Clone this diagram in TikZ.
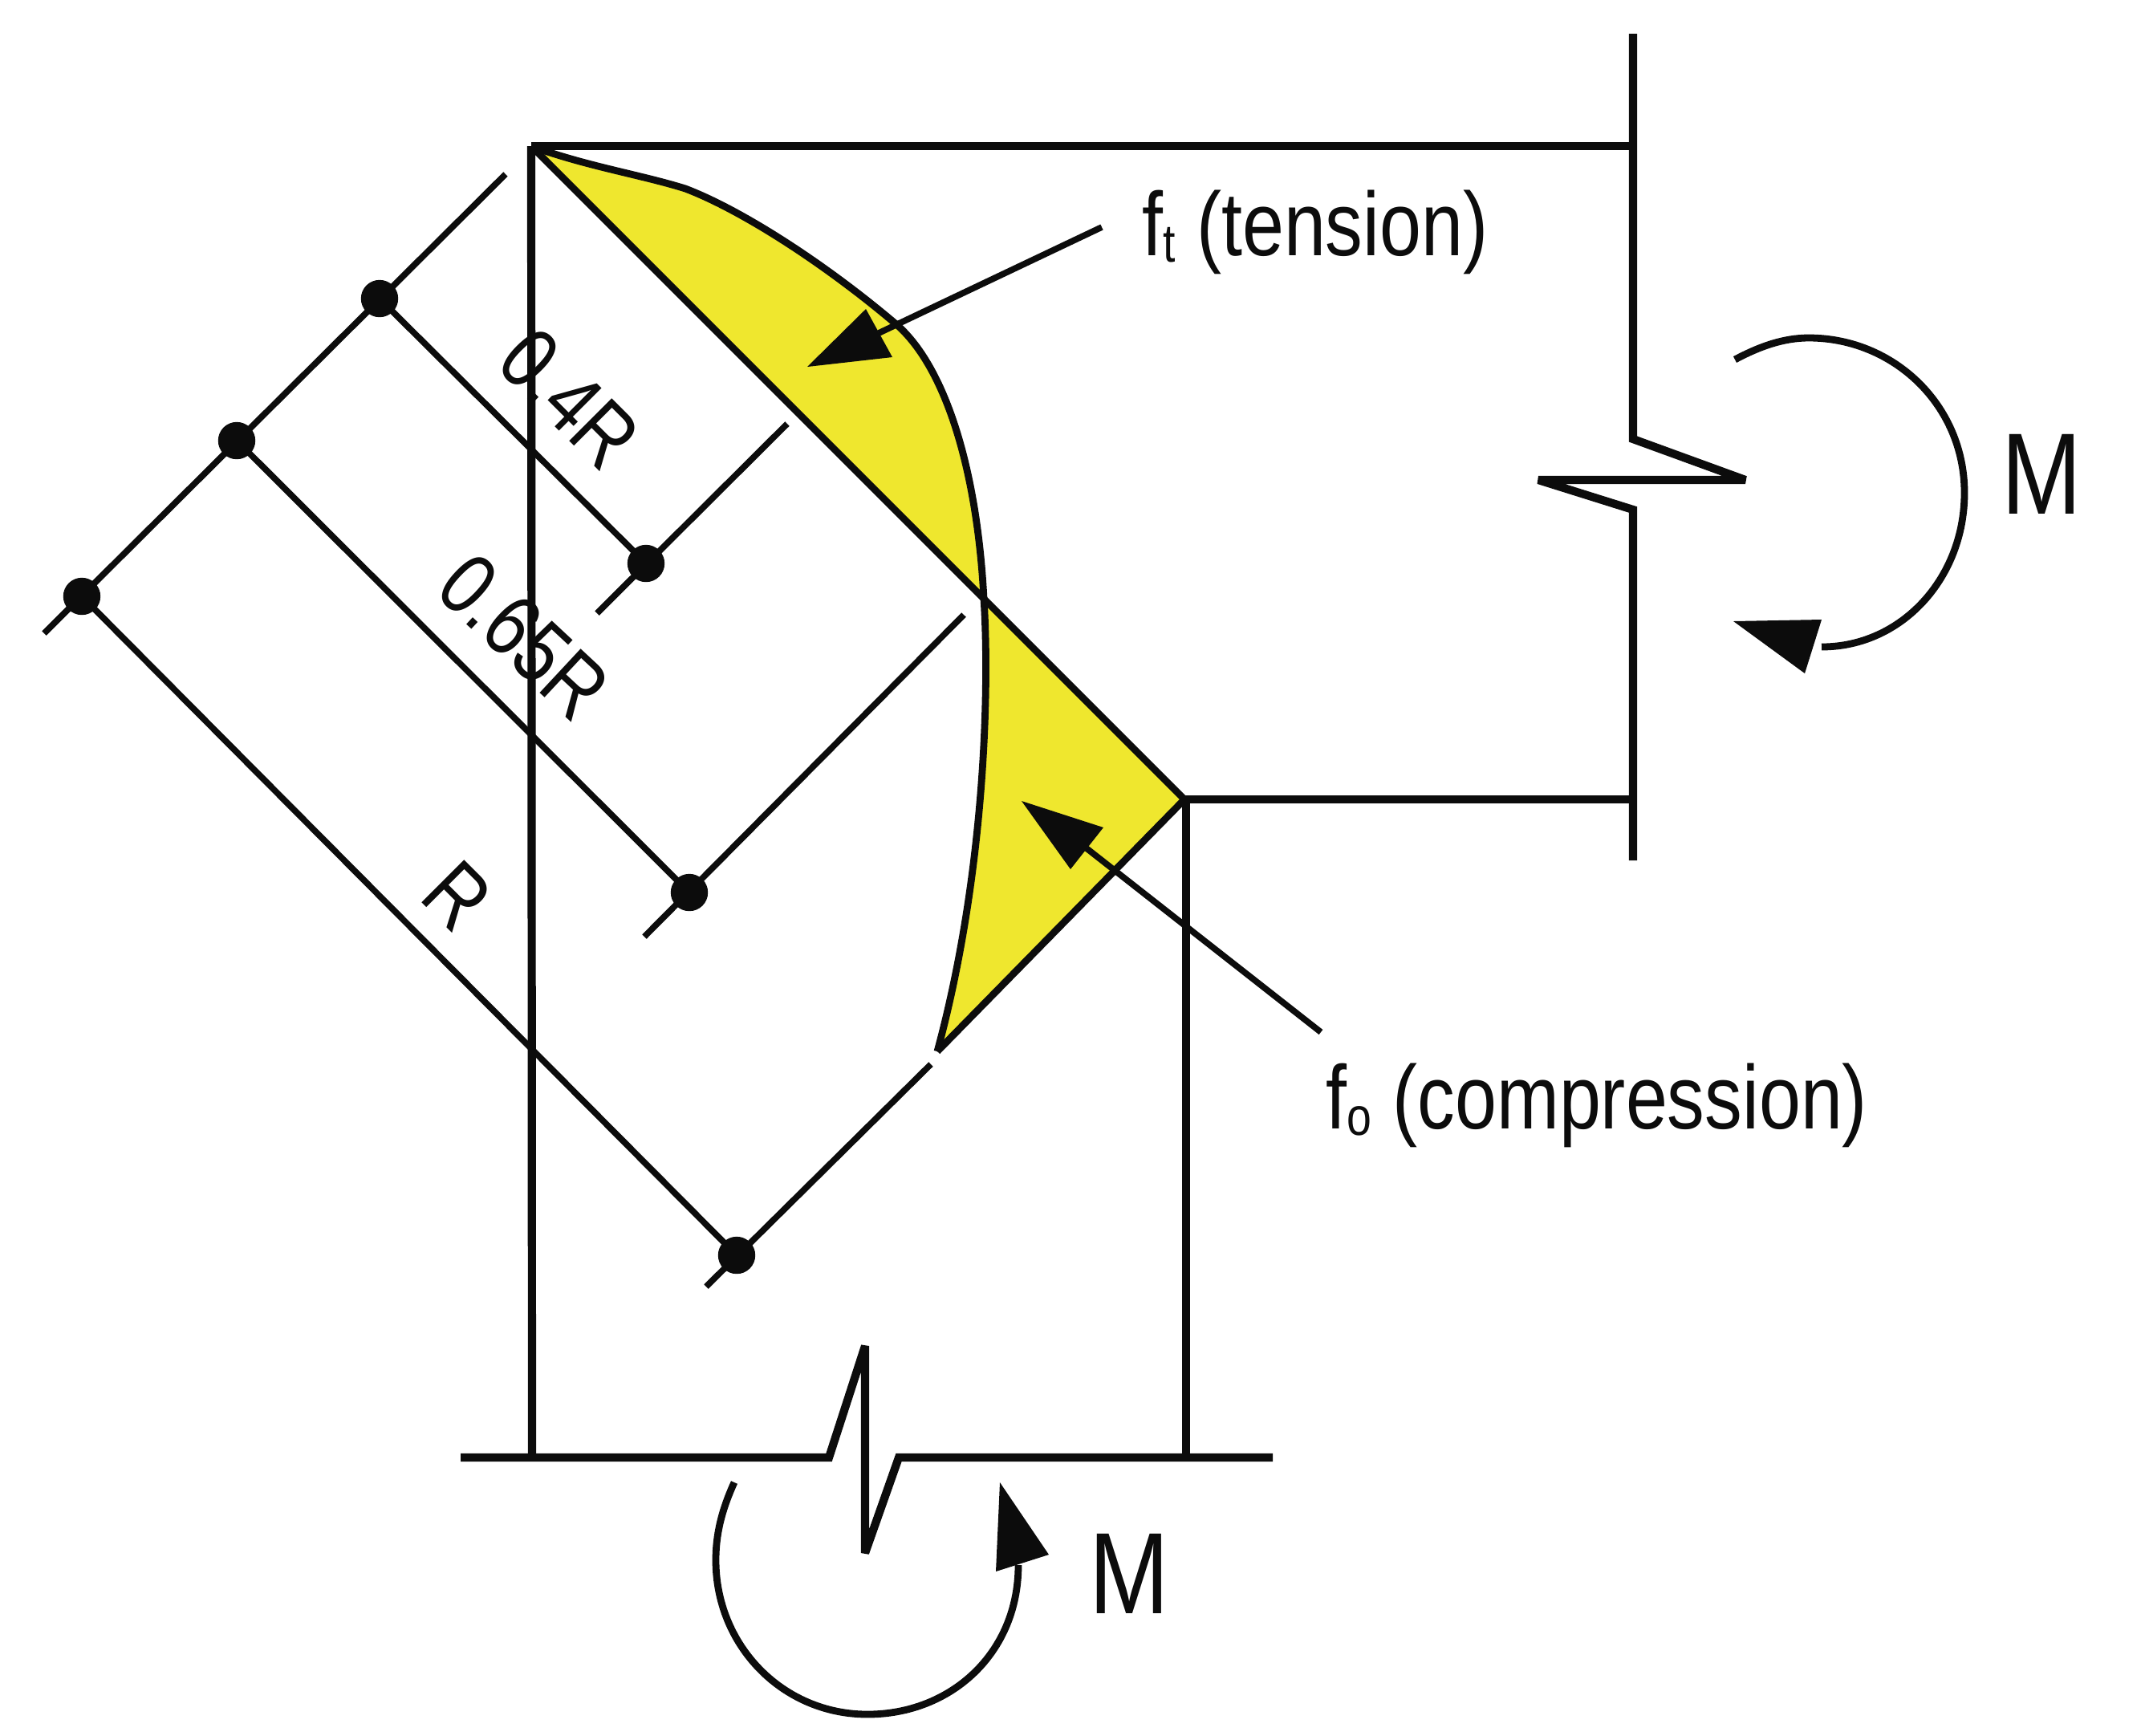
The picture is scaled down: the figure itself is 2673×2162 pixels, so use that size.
\documentclass[tikz,border=0pt]{standalone}
\usepackage{fontspec}
\setmainfont{Liberation Sans}[FakeStretch=0.83]
\definecolor{stressyellow}{HTML}{EFE72E}
\definecolor{ink}{HTML}{0C0C0C}
\newcommand{\subfont}{\fontsize{19}{19}\selectfont}
\tikzset{
  heavy/.style={draw=ink,line width=2.9pt,line join=miter,miter limit=4},
  thin dim/.style={draw=ink,line width=2.2pt},
  curveline/.style={draw=ink,line width=2.5pt},
  dimdot/.style={circle,fill=ink,inner sep=0pt,minimum size=13.2pt},
  head/.style={fill=ink,draw=none},
  lab/.style={text=ink,inner sep=0pt,font=\fontsize{32}{36}\selectfont,anchor=base west},
  dimlab/.style={text=ink,inner sep=0pt,font=\fontsize{31}{35}\selectfont},
  mlab/.style={text=ink,inner sep=0pt,font=\fontsize{41}{45}\selectfont}
}
\begin{document}
\begin{tikzpicture}[x=0.01cm,y=-0.01cm]
\useasboundingbox (0,0) rectangle (2673,2162);
% named points
\coordinate (TL) at (662,182);
\coordinate (TR) at (2035,182);
\coordinate (WT) at (2035,42);
\coordinate (WB1) at (2035,547);
\coordinate (Z1) at (2175,598);
\coordinate (Z2) at (1917,598);
\coordinate (WB2) at (2035,635);
\coordinate (WE) at (2035,1072);
\coordinate (C) at (1476,996);
\coordinate (CR) at (2035,996);
\coordinate (BL) at (663,1816);
\coordinate (BR) at (1478,1816);
\coordinate (CD) at (1478,996);
\coordinate (BaseL) at (574,1816);
\coordinate (BZ1) at (1033,1816);
\coordinate (BZ2) at (1078,1677);
\coordinate (BZ3) at (1078,1935);
\coordinate (BZ4) at (1120,1816);
\coordinate (BaseR) at (1586,1816);
\coordinate (P1) at (854,235);
\coordinate (P2) at (1118,405);
\coordinate (Mid) at (1226,746);
\coordinate (Fan) at (1168,1310);
% yellow stress blocks
\fill[stressyellow] (TL) .. controls (730,207) and (800,218) .. (P1)
  .. controls (925,262) and (1030,330) .. (P2)
  .. controls (1180,460) and (1218,590) .. (Mid)
  .. controls (1234,870) and (1225,1100) .. (Fan) -- (C) -- cycle;
% frame
\draw[heavy] (TL) -- (TR);
\draw[heavy] (TL) -- (BL);
\draw[heavy] (WT) -- (WB1) -- (Z1) -- (Z2) -- (WB2) -- (WE);
\draw[heavy] (C) -- (CR);
\draw[heavy] (CD) -- (BR);
\draw[heavy] (BaseL) -- (BZ1) -- (BZ2) -- (BZ3) -- (BZ4) -- (BaseR);
% stress profile
\draw[curveline] (TL) .. controls (730,207) and (800,218) .. (P1)
  .. controls (925,262) and (1030,330) .. (P2)
  .. controls (1180,460) and (1218,590) .. (Mid)
  .. controls (1234,870) and (1225,1100) .. (Fan);
\draw[curveline] (TL) -- (C) -- (Fan);
% dimension lines
\coordinate (DE1) at (630,217);
\coordinate (DE2) at (55,789);
\node[dimdot] (a1) at (473,372) {};
\node[dimdot] (b1) at (295,549) {};
\node[dimdot] (c1) at (102,743) {};
\node[dimdot] (a2) at (805,702) {};
\node[dimdot] (b2) at (859,1112) {};
\node[dimdot] (c2) at (918,1564) {};
\coordinate (a3) at (744,764);
\coordinate (a4) at (981,528);
\coordinate (b3) at (803,1167);
\coordinate (b4) at (1201,766);
\coordinate (c3) at (880,1603);
\coordinate (c4) at (1160,1326);
\draw[thin dim] (DE1) -- (DE2);
\draw[thin dim] (a1.center) -- (a2.center);
\draw[thin dim] (b1.center) -- (b2.center);
\draw[thin dim] (c1.center) -- (c2.center);
\draw[thin dim] (a3) -- (a4);
\draw[thin dim] (b3) -- (b4);
\draw[thin dim] (c3) -- (c4);
% pointers
\coordinate (T1) at (1373,283);
\coordinate (T2) at (1095,415);
\draw[thin dim] (T1) -- (T2);
\fill[head] (1006,457) -- (1079,385) -- (1112,445) -- cycle;
\coordinate (Q1) at (1646,1286);
\coordinate (Q2) at (1354,1057);
\draw[thin dim] (Q1) -- (Q2);
\fill[head] (1273,998) -- (1375,1031) -- (1334,1083) -- cycle;
% moments
\draw[curveline] (2162,448) .. controls (2192,432) and (2222,421) .. (2254,421)
  .. controls (2360,421) and (2448,505) .. (2448,614)
  .. controls (2448,720) and (2370,806) .. (2270,806);
\fill[head] (2160,774) -- (2270,772) -- (2249,839) -- cycle;
\draw[curveline] (915,1847) .. controls (900,1880) and (892,1910) .. (892,1944)
  .. controls (892,2050) and (975,2136) .. (1081,2136)
  .. controls (1185,2136) and (1269,2060) .. (1269,1950);
\fill[head] (1246,1847) -- (1307,1937) -- (1241,1958) -- cycle;
% labels
\node[lab] (ft) at (1423,318) {f\raisebox{-2.4pt}{\subfont t} (tension)};
\node[lab] (fo) at (1652,1406) {f\raisebox{-2.4pt}{\subfont o} (compression)};
\node[mlab] (m1) at (2544,591) {M};
\node[mlab] (m2) at (1407,1961) {M};
\node[dimlab,rotate=-45] (d4) at (710,497) {0.4R};
\node[dimlab,rotate=-43] (d6) at (653,793) {0.65R};
\node[dimlab,rotate=-45] (dr) at (570,1116) {R};
\end{tikzpicture}
\end{document}
